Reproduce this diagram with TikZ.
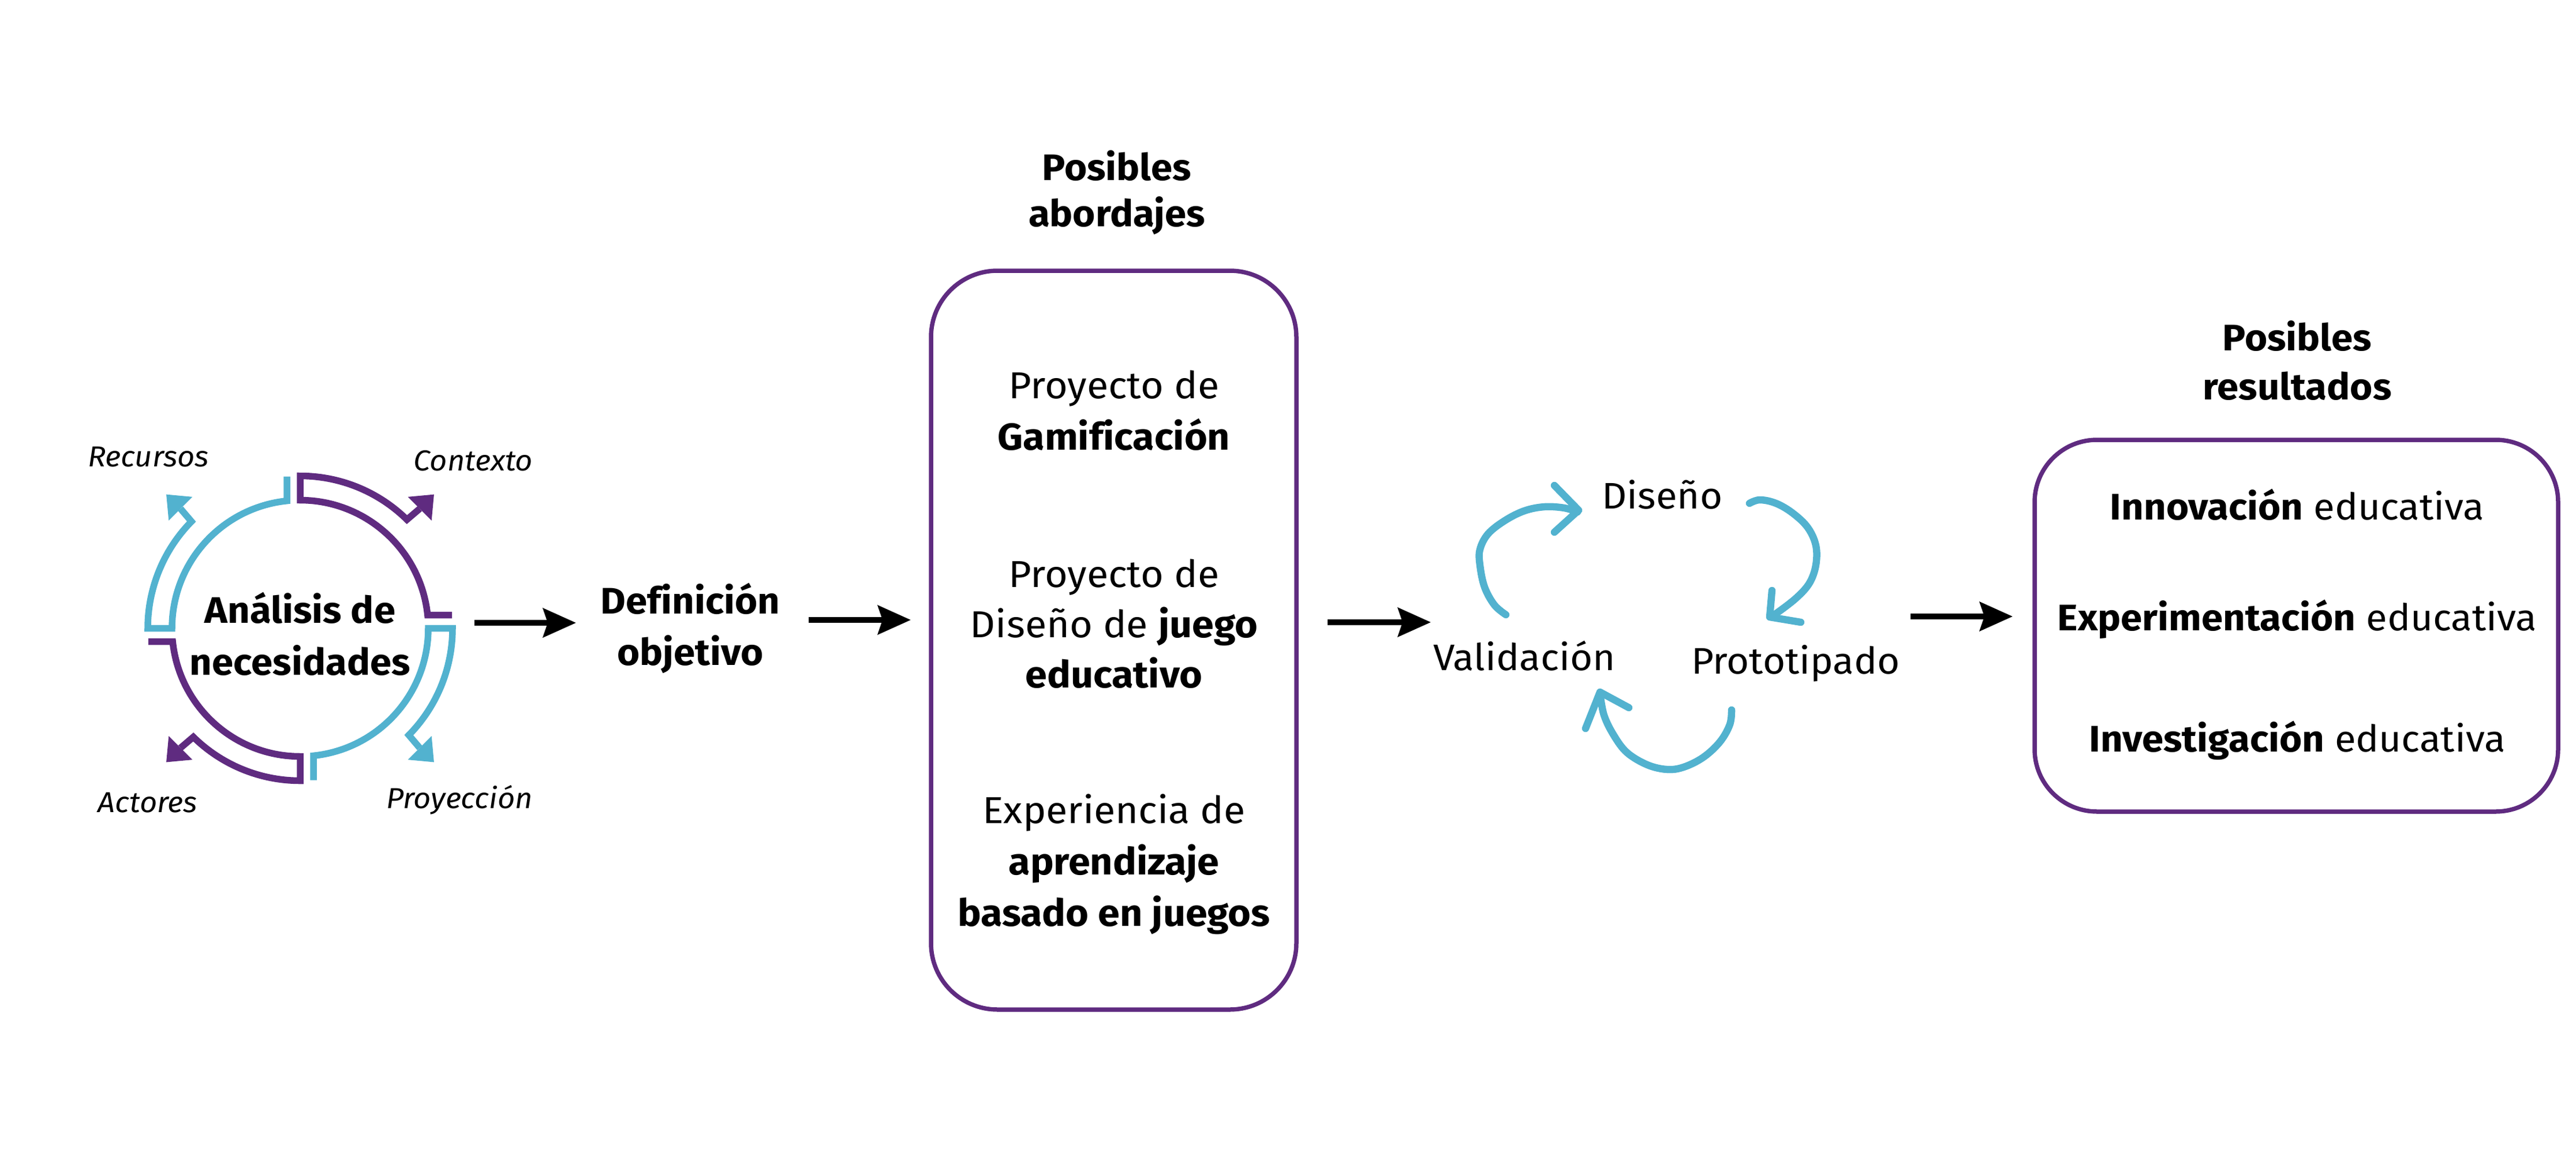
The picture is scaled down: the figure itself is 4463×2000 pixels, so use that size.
\documentclass[tikz,border=0pt]{standalone}
\usepackage{fontspec}
\setmainfont{Fira Sans}[FakeStretch=1.05, Ligatures=NoCommon]
\usetikzlibrary{arrows.meta}
\definecolor{pur}{RGB}{95,43,128}
\definecolor{cya}{RGB}{82,178,207}
\tikzset{
  txt/.style={inner sep=0pt, anchor=base, align=center},
  lab/.style={inner sep=0pt, anchor=base, font=\fontsize{50}{56}\selectfont\itshape},
  roundbox/.style={draw=pur, line width=7.5pt},
  arr/.style={line width=9.5pt, -{Stealth[length=57pt,width=50pt,inset=8pt]}},
  ringline/.style={line width=11.5pt, line join=miter},
  hand/.style={draw=cya, line width=12.5pt, line cap=round, line join=round},
}
\begin{document}
\begin{tikzpicture}[x=1pt,y=-1pt]
\useasboundingbox (0,0) rectangle (4463,2000);

% ---- ring of four hollow arrows ----
\begin{scope}[shift={(520,1088.5)}, x=1pt, y=1pt]
  \foreach \k/\col in {0/pur,1/cya,2/pur,3/cya}{
    \begin{scope}[rotate=90*\k]
      \draw[ringline, draw=\col] (263.0,23) -- (220.8,23)
        arc[start angle=5.95, end angle=90, radius=222] -- (0,264)
        arc[start angle=90, end angle=45.5, radius=264] -- (45:293);
      \fill[\col] (186.7,227.7) -- (231.9,231.9) -- (227.7,186.7) -- cycle;
    \end{scope}
  }
\end{scope}

% (anchor base = baseline of the last line)
\node[txt, font=\fontsize{64}{90}\selectfont\bfseries] (analisis) at (520,1169) {Análisis de\\necesidades};
\node[lab] (recursos) at (257,808) {Recursos};
\node[lab] (contexto) at (820,815) {Contexto};
\node[lab] (actores) at (256,1407) {Actores};
\node[lab] (proyeccion) at (796,1400) {Proyección};

% ---- Definición objetivo ----
\node[txt, font=\fontsize{64}{89}\selectfont\bfseries] (defin) at (1196,1152) {Definición\\objetivo};

% ---- Posibles abordajes ----
\node[txt, font=\fontsize{64}{80}\selectfont\bfseries] (tit1) at (1935,392) {Posibles\\abordajes};
\draw[roundbox, rounded corners=115pt] (1613,469) rectangle (2246,1749);
\node[txt, font=\fontsize{65}{89}\selectfont] (g1) at (1930,779) {Proyecto de\\\textbf{Gamificación}};
\node[txt, font=\fontsize{65}{87}\selectfont] (g2) at (1930,1191) {Proyecto de\\Diseño de \textbf{juego}\\\textbf{educativo}};
\node[txt, font=\fontsize{65}{89}\selectfont] (g3) at (1930,1604) {Experiencia de\\\textbf{aprendizaje}\\\textbf{basado en juegos}};

% ---- cycle ----
\node[txt, font=\fontsize{64}{80}\selectfont] (diseno) at (2880,881) {Diseño};
\node[txt, font=\fontsize{64}{80}\selectfont] (valid) at (2641,1161) {Validación};
\node[txt, font=\fontsize{64}{80}\selectfont] (proto) at (3111,1167) {Prototipado};

\draw[hand] plot[smooth, tension=0.6] coordinates {(2609,1065) (2589,1048) (2572,1017) (2564,979) (2564,952) (2578,925) (2607,902) (2641,885) (2676,878) (2710,880) (2733,887)};
\draw[hand] (2693,841) -- (2735,884) -- (2693,922);

\draw[hand] plot[smooth, tension=0.6] coordinates {(3031,872) (3049,866) (3077,872) (3106,889) (3132,914) (3146,945) (3146,979) (3135,1010) (3112,1036) (3077,1063) (3069,1067)};
\draw[hand] (3070,1023) -- (3066,1069) -- (3120,1078);

\draw[hand] plot[smooth, tension=0.6] coordinates {(3000,1230) (2997,1255) (2980,1285) (2951,1312) (2917,1329) (2888,1333) (2854,1325) (2819,1304) (2796,1274) (2779,1239) (2772,1201)};
\draw[hand] (2747,1262) -- (2772,1199) -- (2822,1226);

% ---- Posibles resultados ----
\node[txt, font=\fontsize{64}{85}\selectfont\bfseries] (tit2) at (3980,692) {Posibles\\resultados};
\draw[roundbox, rounded corners=108pt] (3525,762) rectangle (4432,1406);
\node[txt, font=\fontsize{64}{80}\selectfont] (r1) at (3980,900) {\textbf{Innovación} educativa};
\node[txt, font=\fontsize{64}{80}\selectfont] (r2) at (3980,1092) {\textbf{Experimentación} educativa};
\node[txt, font=\fontsize{64}{80}\selectfont] (r3) at (3980,1302) {\textbf{Investigación} educativa};

% ---- connectors ----
\coordinate (a1s) at (822,1079);  \coordinate (a1e) at (998,1079);
\coordinate (a2s) at (1401,1074); \coordinate (a2e) at (1578,1074);
\coordinate (a3s) at (2300,1078); \coordinate (a3e) at (2479,1078);
\coordinate (a4s) at (3310,1068); \coordinate (a4e) at (3487,1068);
\draw[arr] (a1s) -- (a1e);
\draw[arr] (a2s) -- (a2e);
\draw[arr] (a3s) -- (a3e);
\draw[arr] (a4s) -- (a4e);
\end{tikzpicture}
\end{document}
